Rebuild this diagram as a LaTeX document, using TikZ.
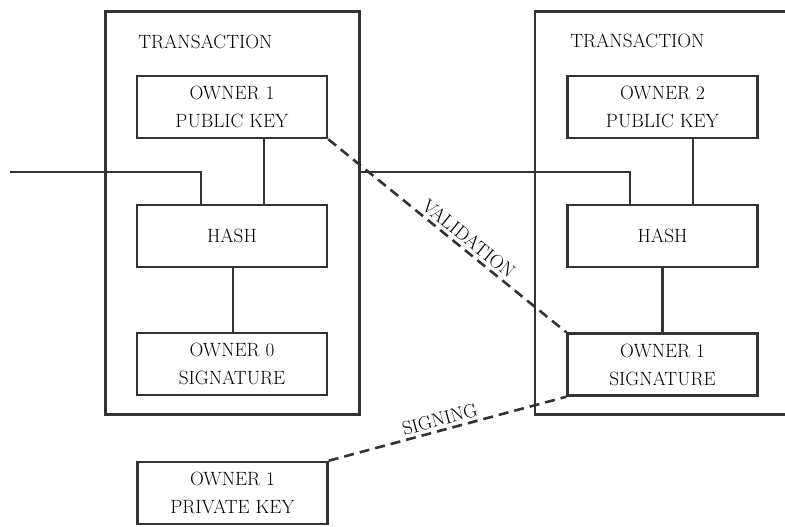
\documentclass[tikz,border=0pt]{standalone}
\begin{document}
\begin{tikzpicture}[x=1pt,y=-1pt,
  line width=2.6pt, draw=black!80,
  box/.style={draw, rectangle, line width=2.6pt, minimum width=190pt, minimum height=62pt, align=center, inner sep=0pt,
    font=\rmfamily\fontsize{19.2}{28}\selectfont},
  outer/.style={draw, rectangle, line width=2.6pt, inner sep=0pt},
  title/.style={anchor=west, inner sep=0pt, font=\rmfamily\fontsize{19.2}{24}\selectfont},
  conn/.style={line width=2.6pt, draw=black!80},
  dashconn/.style={line width=2.6pt, draw=black!80, dash pattern=on 10pt off 6pt},
  lbl/.style={sloped, above, inner sep=3pt, font=\rmfamily\fontsize{19.2}{24}\selectfont}]
\useasboundingbox (0,0) rectangle (785,527);
\begin{scope}
\clip (0,0) rectangle (785,527);
% outer transaction frames
\node[outer, minimum width=254pt, minimum height=403pt] (t1) at (232.5,213) {};
\node[outer, minimum width=265pt, minimum height=403pt] (t2) at (667.5,213) {};
\node[title] (tt1) at (137,42) {TRANSACTION};
\node[title] (tt2) at (569,41) {TRANSACTION};
% left transaction
\node[box] (pk1) at (232,107) {OWNER 1\\PUBLIC KEY};
\node[box] (h1) at (232,236) {HASH};
\node[box] (s0) at (232,364) {OWNER 0\\SIGNATURE};
% right transaction
\node[box] (pk2) at (662.5,107) {OWNER 2\\PUBLIC KEY};
\node[box] (h2) at (662.5,236) {HASH};
\node[box] (s1) at (662.5,364.5) {OWNER 1\\SIGNATURE};
% private key
\node[box] (prk) at (232.5,493) {OWNER 1\\PRIVATE KEY};
% connectors
\coordinate (in1) at (10,172);
\draw[conn] (in1) -| ([xshift=-31pt]h1.north);
\draw[conn] ([xshift=32pt]pk1.south) -- ([xshift=32pt]h1.north);
\draw[conn] ([xshift=1pt]h1.south) -- ([xshift=1pt]s0.north);
\coordinate (in2) at (t1.east |- in1);
\draw[conn] (in2) -| ([xshift=-32.5pt]h2.north);
\draw[conn] ([xshift=30.5pt]pk2.south) -- ([xshift=30.5pt]h2.north);
\draw[conn] (h2.south) -- (s1.north);
% dashed relations
\draw[dashconn] (pk1.south east) -- node[lbl, pos=0.56] {VALIDATION} (s1.north west);
\draw[dashconn] (prk.north east) -- node[lbl, pos=0.48] {SIGNING} (s1.south west);
\end{scope}
\end{tikzpicture}
\end{document}
